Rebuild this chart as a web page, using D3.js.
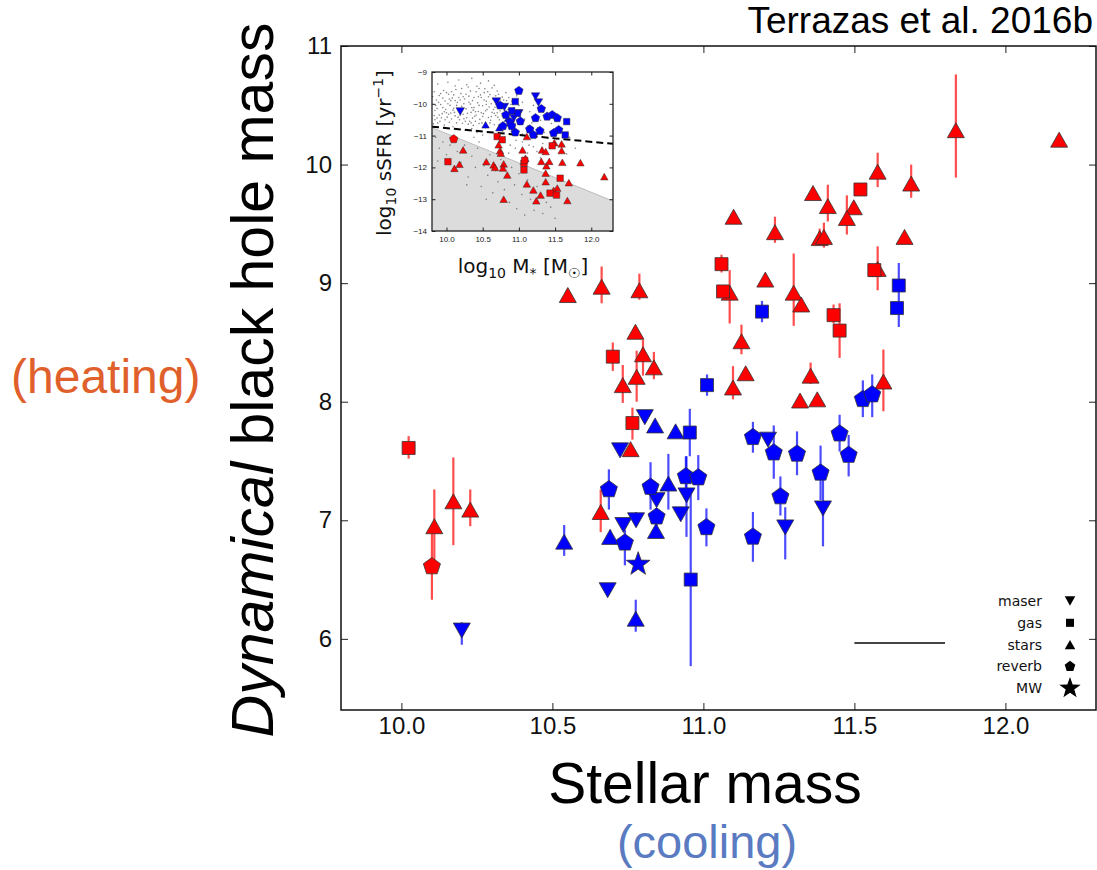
<!DOCTYPE html>
<html>
<head>
<meta charset="utf-8">
<script src="https://cdn.jsdelivr.net/npm/d3@7"></script>
<style>
  body { margin: 0; background: #fff; }
  svg { display: block; }
</style>
</head>
<body>
<div id="chart"></div>
<script>
// main panel: [stellar mass, black hole mass, err top, err bottom] (null = no bar)
const redStars = [
  [10.109, 6.95, 7.26, 6.65], [10.172, 7.16, 7.53, 6.79], [10.228, 7.09, 7.26, 6.95],
  [10.551, 8.90, null, null], [10.663, 8.97, 9.14, 8.83], [10.788, 8.94, 9.08, 8.86],
  [10.775, 8.59, null, null], [10.80, 8.40, 8.52, 8.22], [10.836, 8.29, 8.42, 8.19],
  [10.733, 8.14, 8.31, 7.99], [10.779, 8.21, 8.43, 8.00], [10.759, 7.60, null, null],
  [10.66, 7.07, 7.26, 6.90], [11.10, 9.56, null, null], [11.237, 9.43, 9.56, 9.34],
  [11.363, 9.76, null, null], [11.412, 9.65, 9.83, 9.52], [11.498, 9.64, null, null],
  [11.475, 9.55, 9.74, 9.41], [11.385, 9.38, 9.46, 9.33], [11.399, 9.39, 9.51, 9.30],
  [11.577, 9.94, 10.10, 9.81], [11.666, 9.39, null, null], [11.087, 8.92, 9.11, 8.66],
  [11.205, 9.03, null, null], [11.299, 8.92, 9.25, 8.64], [11.324, 8.82, null, null],
  [11.577, 9.12, 9.31, 8.94], [11.126, 8.51, 8.65, 8.40], [11.14, 8.24, null, null],
  [11.098, 8.12, 8.30, 8.02], [11.355, 8.22, 8.33, 8.15], [11.596, 8.17, 8.44, 7.92],
  [11.32, 8.01, null, null], [11.377, 8.02, null, null], [11.836, 10.29, 10.76, 9.89],
  [12.178, 10.21, null, null], [11.688, 9.84, 10.00, 9.72]
];
const redGas = [
  [10.024, 7.61, 7.71, 7.52], [10.70, 8.38, 8.50, 8.26], [10.765, 7.82, 7.95, 7.68],
  [11.06, 9.16, 9.24, 9.09], [11.065, 8.93, null, null], [11.431, 8.73, 8.82, 8.66],
  [11.451, 8.60, 8.83, 8.37], [11.52, 9.79, null, null], [11.566, 9.11, null, null]
];
const redReverb = [[10.101, 6.61, 6.90, 6.33]];

const blueStars = [
  [10.539, 6.82, 6.96, 6.70], [10.84, 7.80, null, null], [10.908, 7.75, 7.80, 7.70],
  [10.884, 7.31, 7.56, 7.09], [10.843, 6.91, 7.00, 6.85], [10.691, 6.86, 6.92, 6.80],
  [10.776, 6.17, 6.33, 6.06]
];
const blueMaser = [
  [10.806, 7.87, null, null], [10.724, 7.59, null, null], [10.845, 7.17, null, null],
  [10.944, 7.21, 7.54, 6.86], [10.925, 7.05, null, null], [10.735, 6.96, null, null],
  [10.777, 7.00, 7.07, 6.95], [10.683, 6.41, null, null], [11.214, 7.68, null, null],
  [11.271, 6.94, 7.11, 6.67], [11.396, 7.10, 7.34, 6.78], [10.20, 6.07, 6.14, 5.95]
];
const blueGas = [
  [10.955, 7.74, 7.94, 7.54], [10.958, 6.50, 7.26, 5.77], [11.194, 8.76, 8.85, 8.67],
  [11.012, 8.14, 8.23, 8.05], [11.647, 8.98, 9.17, 8.63], [11.641, 8.79, null, null]
];
const blueReverb = [
  [10.687, 7.26, 7.43, 7.09], [10.825, 7.28, 7.49, 7.09], [10.942, 7.37, 7.54, 7.20],
  [10.983, 7.36, 7.55, 7.17], [10.845, 7.03, 7.10, 6.95], [10.74, 6.81, 6.92, 6.62],
  [11.01, 6.94, 7.10, 6.78], [11.164, 7.70, 7.83, 7.57], [11.233, 7.57, 7.80, 7.35],
  [11.31, 7.56, 7.75, 7.38], [11.255, 7.20, 7.37, 7.04], [11.164, 6.86, 7.07, 6.65],
  [11.528, 8.02, 8.18, 7.87], [11.559, 8.06, 8.23, 7.87], [11.451, 7.73, 7.89, 7.58],
  [11.481, 7.55, 7.72, 7.37], [11.388, 7.40, 7.63, 7.17]
];
const blueMW = [[10.784, 6.63, null, null]];

const massTicks = [10.0, 10.5, 11.0, 11.5, 12.0];
const bhTicks = [6, 7, 8, 9, 10, 11];
const scaleBar = [[11.5, 5.965], [11.8, 5.965]];
const legendNames = ["maser", "gas", "stars", "reverb", "MW"];

// inset: [stellar mass, log sSFR]
const insetBlueMaser = [[10.19,-10.24],[10.69,-9.93],[11.23,-9.77],[11.27,-9.96],[10.80,-10.10],[10.93,-10.45],[11.00,-10.30]];
const insetBlueStars = [[10.54,-10.66],[10.73,-10.75],[10.85,-10.45]];
const insetBlueGas = [[10.95,-9.93],[11.66,-10.56],[11.64,-10.98],[10.98,-10.30],[10.90,-10.22]];
const insetBlueReverb = [[11.00,-9.59],[10.74,-10.05],[11.31,-10.16],[11.23,-10.45],[11.39,-10.40],[11.46,-10.35],
  [11.53,-10.45],[11.55,-10.82],[11.48,-10.92],[11.15,-10.80],[11.20,-10.98],[11.29,-10.85],[10.82,-10.35],
  [10.88,-10.58],[10.78,-10.70],[10.95,-10.90],[10.90,-10.70],[11.02,-10.55]];
const insetRedStars = [[10.11,-12.03],[10.18,-11.90],[10.23,-11.45],[10.55,-11.82],[10.65,-11.92],[10.67,-12.00],
  [10.79,-11.89],[10.78,-12.02],[10.84,-12.24],[10.79,-13.00],[10.72,-11.29],[10.74,-11.47],[10.75,-11.55],
  [11.11,-11.03],[11.05,-11.45],[11.09,-11.71],[11.11,-12.52],[11.20,-12.71],[11.24,-13.05],[11.30,-12.87],
  [11.32,-11.45],[11.37,-11.50],[11.31,-11.81],[11.38,-11.95],[11.37,-12.18],[11.37,-12.45],[11.49,-11.22],
  [11.59,-11.26],[11.59,-11.47],[11.60,-11.84],[11.69,-12.48],[11.53,-12.65],[11.48,-12.72],[11.67,-13.04],
  [11.85,-11.85],[12.18,-12.29],[11.42,-11.81]];
const insetRedGas = [[10.02,-11.82],[10.70,-11.03],[10.77,-11.13],[11.07,-11.87],[11.07,-12.08],[11.46,-11.32],
  [11.57,-12.34],[11.43,-12.81],[11.52,-12.87],[11.08,-11.78]];
const insetRedReverb = [[10.10,-11.11]];
const insetSample = [
  [9.83,-9.62],[9.86,-9.88],[9.84,-10.21],[9.87,-10.45],[9.82,-10.63],[9.9,-9.74],[9.92,-10.02],[9.94,-10.31],
  [9.91,-10.55],[9.96,-9.58],[9.98,-9.91],[9.99,-10.18],[10.01,-10.42],[9.97,-10.67],[10.03,-9.7],[10.05,-10.05],
  [10.06,-10.29],[10.04,-10.58],[10.08,-9.82],[10.1,-10.14],[10.12,-10.38],[10.09,-10.72],[10.13,-9.55],[10.15,-9.96],
  [10.16,-10.22],[10.18,-10.5],[10.2,-9.68],[10.21,-10.08],[10.23,-10.33],[10.22,-10.61],[10.25,-9.85],[10.27,-10.16],
  [10.28,-10.44],[10.26,-10.83],[10.3,-9.47],[10.31,-9.76],[10.33,-10.01],[10.34,-10.27],[10.32,-10.55],[10.36,-9.9],
  [10.38,-10.12],[10.39,-10.39],[10.37,-10.68],[10.41,-9.62],[10.43,-9.97],[10.44,-10.24],[10.46,-10.49],[10.42,-10.9],
  [10.48,-9.8],[10.5,-10.06],[10.51,-10.31],[10.49,-10.6],[10.53,-9.53],[10.55,-9.92],[10.56,-10.18],[10.58,-10.43],
  [10.54,-10.75],[10.6,-9.71],[10.62,-10.0],[10.63,-10.27],[10.61,-10.52],[10.65,-9.86],[10.67,-10.11],[10.68,-10.37],
  [10.66,-10.66],[10.7,-9.6],[10.72,-9.95],[10.74,-10.22],[10.73,-10.5],[10.77,-9.79],[10.79,-10.06],[10.8,-10.33],
  [10.78,-10.85],[10.83,-9.9],[10.85,-10.18],[10.87,-10.47],[10.89,-10.02],[10.92,-10.28],
  [9.81,-9.78],[9.85,-10.05],[9.83,-10.37],[9.88,-10.6],[9.89,-9.95],[9.93,-10.44],[9.95,-9.82],[9.97,-10.25],
  [10.0,-9.65],[10.02,-10.0],[10.03,-10.33],[10.06,-9.9],[10.07,-10.48],[10.1,-9.72],[10.11,-10.27],[10.14,-10.05],
  [10.14,-10.6],[10.17,-9.8],[10.19,-10.36],[10.21,-9.52],[10.24,-10.0],[10.24,-10.47],[10.27,-9.7],[10.29,-10.3],
  [10.3,-10.64],[10.33,-9.6],[10.35,-10.12],[10.36,-10.45],[10.38,-9.8],[10.4,-10.25],[10.42,-9.45],[10.45,-10.05],
  [10.45,-10.62],[10.47,-9.72],[10.5,-10.4],[10.52,-9.88],[10.54,-10.22],[10.57,-9.62],[10.59,-10.1],[10.6,-10.6],
  [10.63,-9.5],[10.64,-9.85],[10.66,-10.3],[10.69,-10.0],[10.71,-10.42],[10.72,-9.7],[10.75,-10.12],[10.76,-10.65],
  [10.79,-9.88],[10.81,-10.45],[10.82,-9.65],[10.84,-10.28],[10.86,-9.8],[10.88,-10.6],[10.9,-9.92],[10.93,-10.12],
  [10.95,-10.4],[10.97,-9.75],[11.0,-10.05],[11.03,-10.55],
  [9.84,-10.5],[9.87,-10.15],[9.9,-10.35],[9.92,-9.68],[9.98,-10.5],[10.0,-10.28],[10.04,-9.85],[10.09,-10.2],
  [10.12,-9.9],[10.16,-10.42],[10.2,-10.15],[10.23,-9.78],[10.26,-10.55],[10.31,-9.95],[10.34,-10.6],[10.37,-10.2],
  [10.41,-10.35],[10.44,-9.78],[10.48,-10.28],[10.51,-10.72],[10.55,-10.02],[10.58,-9.78],[10.62,-10.4],[10.65,-10.18],
  [10.68,-9.75],[10.7,-10.28],[10.74,-9.88],[10.77,-10.38],[10.8,-10.2],[10.83,-10.55],
  [9.88,-9.38],[10.02,-9.32],[10.17,-9.25],[10.35,-9.2],[10.47,-9.35],[10.58,-9.28],[10.66,-9.42],[10.28,-9.4],
  [10.45,-9.52],[10.12,-9.44],[9.95,-10.12],[10.07,-9.62],[10.19,-9.88],[10.4,-10.55],[10.52,-9.65],[10.35,-10.78],
  [10.95,-10.62],[10.98,-10.85],[11.02,-10.2],[11.05,-10.95],[11.08,-10.48],[11.12,-10.7],[11.1,-11.0],[11.15,-10.25],
  [11.18,-10.6],[11.22,-11.05],[11.26,-10.75],[11.3,-10.52],[11.35,-10.9],[11.4,-11.08],[11.45,-10.62],[11.52,-11.12],
  [11.58,-10.88],[11.62,-11.3],[11.7,-11.05],[11.78,-11.4],[11.05,-9.95],[11.2,-10.05],[10.96,-11.15],[11.33,-11.25],
  [11.48,-11.4],[11.14,-11.3],[11.66,-11.58],[11.25,-11.5],[10.9,-10.82],[10.84,-10.7],
  [10.6,-10.9],[10.7,-11.05],[10.8,-11.15],[10.88,-11.3],[10.95,-11.4],[11.05,-11.2],[11.12,-11.55],[11.2,-11.35],
  [11.3,-11.7],[10.5,-10.98],[10.45,-11.2],[10.38,-11.05],
  [9.85,-11.05],[9.9,-11.4],[9.95,-11.2],[10.0,-11.6],[10.05,-11.3],[10.08,-12.1],[10.15,-11.5],[10.2,-11.85],
  [10.25,-11.3],[10.3,-12.3],[10.35,-11.65],[10.4,-12.0],[10.43,-11.4],[10.48,-12.6],[10.52,-11.95],[10.57,-12.25],
  [10.6,-11.6],[10.64,-12.8],[10.68,-12.1],[10.71,-12.45],[10.75,-11.75],[10.8,-12.7],[10.83,-12.3],[10.87,-13.1],
  [10.9,-12.0],[10.94,-12.55],[10.97,-13.3],[11.0,-12.2],[11.04,-12.85],[11.08,-13.5],[11.12,-12.4],[11.16,-13.0],
  [11.21,-13.35],[11.27,-12.95],[11.33,-13.45],[11.38,-13.1],[11.44,-13.25],[11.5,-13.6],[11.02,-11.9],[10.86,-11.55],
  [10.1,-11.15],[9.88,-11.8],[10.28,-12.55],[10.55,-13.0],[11.25,-12.6]
];
const quenchLine = [[9.8, -10.75], [12.3, -13.06]];
const dividerLine = [[9.8, -10.72], [12.3, -11.26]];
const insetMassTicks = [10.0, 10.5, 11.0, 11.5, 12.0];
const insetSsfrTicks = [-9, -10, -11, -12, -13, -14];

const W = 1097, H = 870;
const RED = "#ff0000", BLUE = "#0000ff", EDGE = "#333";
const SANS = "'Liberation Sans', Arial, sans-serif";
const DEJAVU = "'DejaVu Sans', sans-serif";

const svg = d3.select("#chart").append("svg")
    .attr("width", W)
    .attr("height", H)
    .style("background", "#fff");

// marker shapes, k scales them
function marker(kind, k) {
    if (kind === "stars") return `M0,${-7.5*k}L${8.5*k},${7.5*k}L${-8.5*k},${7.5*k}Z`;
    if (kind === "maser") return `M0,${7.5*k}L${8.5*k},${-7.5*k}L${-8.5*k},${-7.5*k}Z`;
    if (kind === "gas") return `M${-6.5*k},${-6.5*k}h${13*k}v${13*k}h${-13*k}Z`;
    let n = kind === "reverb" ? 5 : 10, pts = [];
    for (let i = 0; i < n; i++) {
        let a = -Math.PI / 2 + i * 2 * Math.PI / n;
        let r = kind === "reverb" ? 9 * k : (i % 2 ? 5 * k : 12.5 * k);
        pts.push([r * Math.cos(a), r * Math.sin(a)]);
    }
    return "M" + pts.map(p => p.join(",")).join("L") + "Z";
}

// ---------- main panel ----------
const x = d3.scaleLinear().domain([9.8, 12.3]).range([341, 1096]);
const y = d3.scaleLinear().domain([5.4, 11]).range([710, 46]);

const axes = svg.append("g").attr("font-family", DEJAVU);
axes.append("g")
    .attr("transform", "translate(0,710)")
    .call(d3.axisBottom(x).tickValues(massTicks).tickFormat(d3.format(".1f")).tickSizeInner(-7).tickSizeOuter(0).tickPadding(7));
axes.append("g")
    .attr("transform", "translate(0,46)")
    .call(d3.axisTop(x).tickValues(massTicks).tickFormat("").tickSizeInner(-7).tickSizeOuter(0));
axes.append("g")
    .attr("transform", "translate(341,0)")
    .call(d3.axisLeft(y).tickValues(bhTicks).tickFormat(d3.format("d")).tickSizeInner(-7).tickSizeOuter(0).tickPadding(9));
axes.append("g")
    .attr("transform", "translate(1096,0)")
    .call(d3.axisRight(y).tickValues(bhTicks).tickFormat("").tickSizeInner(-7).tickSizeOuter(0));
axes.selectAll(".domain").remove();
axes.selectAll(".tick line").attr("stroke", "#222").attr("stroke-width", 1);
axes.selectAll(".tick text").attr("font-size", 24).attr("fill", "#111");

svg.append("rect")
    .attr("x", 341).attr("y", 46).attr("width", 1096 - 341).attr("height", 710 - 46)
    .attr("fill", "none").attr("stroke", "#111").attr("stroke-width", 1.5);

svg.append("line")
    .attr("x1", x(scaleBar[0][0])).attr("y1", y(scaleBar[0][1]))
    .attr("x2", x(scaleBar[1][0])).attr("y2", y(scaleBar[1][1]))
    .attr("stroke", "#444").attr("stroke-width", 2);

const groups = [
    {data: redStars, kind: "stars", color: RED},
    {data: redGas, kind: "gas", color: RED},
    {data: redReverb, kind: "reverb", color: RED},
    {data: blueStars, kind: "stars", color: BLUE},
    {data: blueMaser, kind: "maser", color: BLUE},
    {data: blueGas, kind: "gas", color: BLUE},
    {data: blueReverb, kind: "reverb", color: BLUE},
    {data: blueMW, kind: "mw", color: BLUE}
];

const pts = svg.append("g");
groups.forEach(function(g) {
    pts.selectAll(null)
        .data(g.data.filter(d => d[2] !== null))
        .enter().append("line")
        .attr("x1", d => x(d[0])).attr("x2", d => x(d[0]))
        .attr("y1", d => y(d[2])).attr("y2", d => y(d[3]))
        .attr("stroke", g.color).attr("stroke-width", 2.2).attr("stroke-opacity", 0.7);
});
groups.forEach(function(g) {
    pts.selectAll(null)
        .data(g.data)
        .enter().append("path")
        .attr("d", marker(g.kind, 1))
        .attr("transform", d => "translate(" + x(d[0]) + "," + y(d[1]) + ")")
        .attr("fill", g.color).attr("stroke", EDGE).attr("stroke-width", 0.8);
});

// legend
const legend = svg.append("g").attr("font-family", DEJAVU);
const legendKinds = ["maser", "gas", "stars", "reverb", "mw"];
legendNames.forEach(function(name, i) {
    let yy = 601 + i * 21.8;
    legend.append("text").attr("x", 1042).attr("y", yy + 5)
        .attr("text-anchor", "end").attr("font-size", 14).attr("fill", "#111").text(name);
    legend.append("path").attr("d", marker(legendKinds[i], i === 4 ? 0.9 : 0.62))
        .attr("transform", "translate(1070," + yy + ")").attr("fill", "#000");
});

// ---------- inset ----------
const ix = d3.scaleLinear().domain([9.8, 12.3]).range([432, 613]);
const iy = d3.scaleLinear().domain([-14, -9]).range([231, 72]);
const inset = svg.append("g");

inset.append("rect").attr("x", 432).attr("y", 72).attr("width", 181).attr("height", 159).attr("fill", "#fff");
inset.append("path")
    .attr("d", "M" + ix(quenchLine[0][0]) + "," + iy(quenchLine[0][1]) +
        "L" + ix(quenchLine[1][0]) + "," + iy(quenchLine[1][1]) +
        "L" + ix(12.3) + "," + iy(-14) + "L" + ix(9.8) + "," + iy(-14) + "Z")
    .attr("fill", "#dcdcdc");
inset.append("line")
    .attr("x1", ix(quenchLine[0][0])).attr("y1", iy(quenchLine[0][1]))
    .attr("x2", ix(quenchLine[1][0])).attr("y2", iy(quenchLine[1][1]))
    .attr("stroke", "#bdbdbd").attr("stroke-width", 1);
inset.selectAll(null).data(insetSample).enter().append("circle")
    .attr("cx", d => ix(d[0])).attr("cy", d => iy(d[1])).attr("r", 0.8)
    .attr("fill", "#666").attr("fill-opacity", 0.8);
inset.append("line")
    .attr("x1", ix(dividerLine[0][0])).attr("y1", iy(dividerLine[0][1]))
    .attr("x2", ix(dividerLine[1][0])).attr("y2", iy(dividerLine[1][1]))
    .attr("stroke", "#000").attr("stroke-width", 2).attr("stroke-dasharray", "7,4");

const insetGroups = [
    {data: insetBlueMaser, kind: "maser", color: BLUE},
    {data: insetBlueStars, kind: "stars", color: BLUE},
    {data: insetBlueGas, kind: "gas", color: BLUE},
    {data: insetBlueReverb, kind: "reverb", color: BLUE},
    {data: insetRedStars, kind: "stars", color: RED},
    {data: insetRedGas, kind: "gas", color: RED},
    {data: insetRedReverb, kind: "reverb", color: RED}
];
insetGroups.forEach(function(g) {
    inset.selectAll(null).data(g.data).enter().append("path")
        .attr("d", marker(g.kind, g.kind === "stars" ? 0.44 : 0.5))
        .attr("transform", d => "translate(" + ix(d[0]) + "," + iy(d[1]) + ")")
        .attr("fill", g.color).attr("stroke", EDGE).attr("stroke-width", 0.5);
});

const iaxes = inset.append("g").attr("font-family", DEJAVU);
iaxes.append("g").attr("transform", "translate(0,231)")
    .call(d3.axisBottom(ix).tickValues(insetMassTicks).tickFormat(d3.format(".1f")).tickSizeInner(-3.5).tickSizeOuter(0).tickPadding(5));
iaxes.append("g").attr("transform", "translate(0,72)")
    .call(d3.axisTop(ix).tickValues(insetMassTicks).tickFormat("").tickSizeInner(-3.5).tickSizeOuter(0));
iaxes.append("g").attr("transform", "translate(432,0)")
    .call(d3.axisLeft(iy).tickValues(insetSsfrTicks).tickFormat(d => "\u2212" + Math.abs(d)).tickSizeInner(-3.5).tickSizeOuter(0).tickPadding(5));
iaxes.append("g").attr("transform", "translate(613,0)")
    .call(d3.axisRight(iy).tickValues(insetSsfrTicks).tickFormat("").tickSizeInner(-3.5).tickSizeOuter(0));
iaxes.selectAll(".domain").remove();
iaxes.selectAll(".tick line").attr("stroke", "#222");
iaxes.selectAll(".tick text").attr("font-size", 8).attr("fill", "#222");
inset.append("rect").attr("x", 432).attr("y", 72).attr("width", 181).attr("height", 159)
    .attr("fill", "none").attr("stroke", "#222").attr("stroke-width", 1.3);

const xl = inset.append("text").attr("x", 523).attr("y", 273).attr("text-anchor", "middle")
    .attr("font-family", DEJAVU).attr("font-size", 20).attr("fill", "#111");
xl.append("tspan").text("log");
xl.append("tspan").attr("font-size", 14).attr("baseline-shift", "-5").text("10");
xl.append("tspan").text(" M");
xl.append("tspan").attr("font-size", 14).attr("baseline-shift", "-5").text("*");
xl.append("tspan").text(" [M");
xl.append("tspan").attr("font-size", 14).attr("baseline-shift", "-5").text("\u2609");
xl.append("tspan").text("]");

const yl = inset.append("text").attr("transform", "translate(391,153) rotate(-90)").attr("text-anchor", "middle")
    .attr("font-family", DEJAVU).attr("font-size", 20).attr("fill", "#111");
yl.append("tspan").text("log");
yl.append("tspan").attr("font-size", 14).attr("baseline-shift", "-5").text("10");
yl.append("tspan").text(" sSFR [yr");
yl.append("tspan").attr("font-size", 14).attr("baseline-shift", "8").text("\u22121");
yl.append("tspan").text("]");

// ---------- annotations ----------
svg.append("text").attr("x", 1093).attr("y", 33).attr("text-anchor", "end")
    .attr("font-family", SANS).attr("font-size", 37).attr("fill", "#000").text("Terrazas et al. 2016b");

const ylab = svg.append("text").attr("transform", "translate(273,380) rotate(-90)").attr("text-anchor", "middle")
    .attr("font-family", SANS).attr("font-size", 59).attr("fill", "#000");
ylab.append("tspan").attr("font-style", "italic").text("Dynamical");
ylab.append("tspan").text(" black hole mass");

svg.append("text").attr("x", 11).attr("y", 393)
    .attr("font-family", SANS).attr("font-size", 48).attr("fill", "#e0602c").text("(heating)");
svg.append("text").attr("x", 705).attr("y", 803).attr("text-anchor", "middle")
    .attr("font-family", SANS).attr("font-size", 57).attr("fill", "#000").text("Stellar mass");
svg.append("text").attr("x", 707).attr("y", 858).attr("text-anchor", "middle")
    .attr("font-family", SANS).attr("font-size", 47).attr("fill", "#5a7bc1").text("(cooling)");
</script>
</body>
</html>
